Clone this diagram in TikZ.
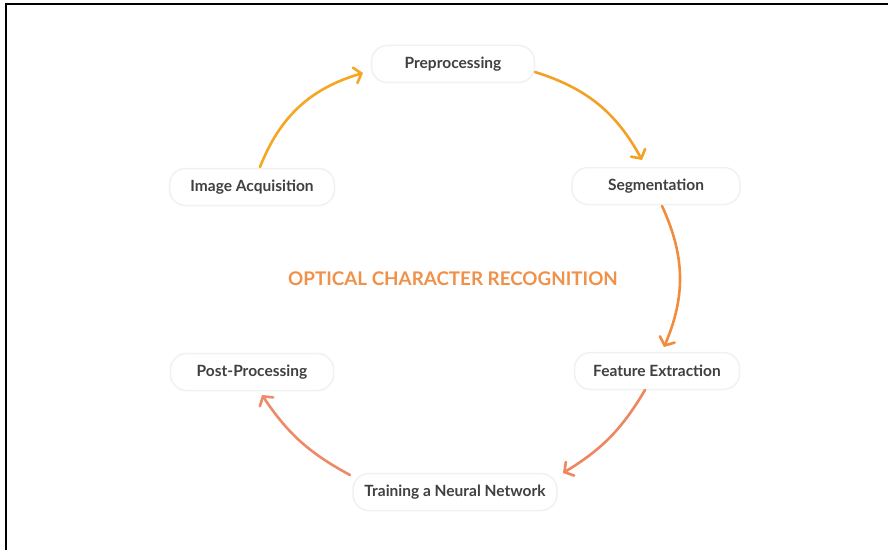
\documentclass[tikz,border=0pt]{standalone}
\usepackage{fontspec}
\setmainfont{Lato}
\usetikzlibrary{arrows.meta}
\definecolor{labelgray}{HTML}{404040}
\definecolor{boxline}{HTML}{F1F1F1}
\definecolor{ocrtitle}{HTML}{F0914A}
\definecolor{arrA}{HTML}{F5A623}
\definecolor{arrB}{HTML}{F4A024}
\definecolor{arrC}{HTML}{F28C3C}
\definecolor{arrD}{HTML}{EE8660}
\definecolor{arrE}{HTML}{ED8A68}
\begin{document}
\begin{tikzpicture}[x=1pt,y=1pt,
  stagebox/.style={draw=boxline, line width=1.5pt, fill=white, rounded corners=16pt,
    minimum width=165pt, minimum height=37pt, inner sep=0pt,
    font=\fontsize{15.5}{18}\selectfont\bfseries, text=labelgray},
  flow/.style={line width=2.6pt, line cap=round,
    -{Straight Barb[length=6.5pt,width=16pt,line cap=round]}}]
  \useasboundingbox (0,0) rectangle (888,550);
  % page frame: top and left rules
  \fill[white] (0,0) rectangle (888,550);
  \draw[line width=2.5pt] (6,0) -- (6,546) -- (888,546);

  % stages of the cycle
  \node[stagebox, minimum width=163pt] (pre)   at (453,486) {Preprocessing};
  \node[stagebox] (acq)   at (252,363) {Image Acquisition};
  \node[stagebox, minimum width=168pt] (seg)   at (656,364) {Segmentation};
  \node[stagebox] (fea)   at (657,179) {Feature Extraction};
  \node[stagebox, minimum width=163pt] (post)  at (252,178) {Post-Processing};
  \node[stagebox, minimum width=204pt] (train) at (455,58)  {Training a Neural Network};

  \node[font=\fontsize{18.8}{22}\selectfont\bfseries, text=ocrtitle] (title) at (453,271)
    {OPTICAL CHARACTER RECOGNITION};

  % arrow end points
  \coordinate (s1) at (260,383); \coordinate (e1) at (363,477);
  \coordinate (s2) at (535,478); \coordinate (e2) at (642,390);
  \coordinate (s3) at (662,344); \coordinate (e3) at (664,203);
  \coordinate (s4) at (645,160); \coordinate (e4) at (563,77);
  \coordinate (s5) at (350,75);  \coordinate (e5) at (262,155);

  \draw[flow, arrA] (s1) to[bend left=26] (e1);
  \draw[flow, arrB] (s2) to[bend left=22] (e2);
  \draw[flow, arrC] (s3) to[bend left=24] (e3);
  \draw[flow, arrD] (s4) to[bend left=14] (e4);
  \draw[flow, arrE] (s5) to[bend left=14] (e5);
\end{tikzpicture}
\end{document}
